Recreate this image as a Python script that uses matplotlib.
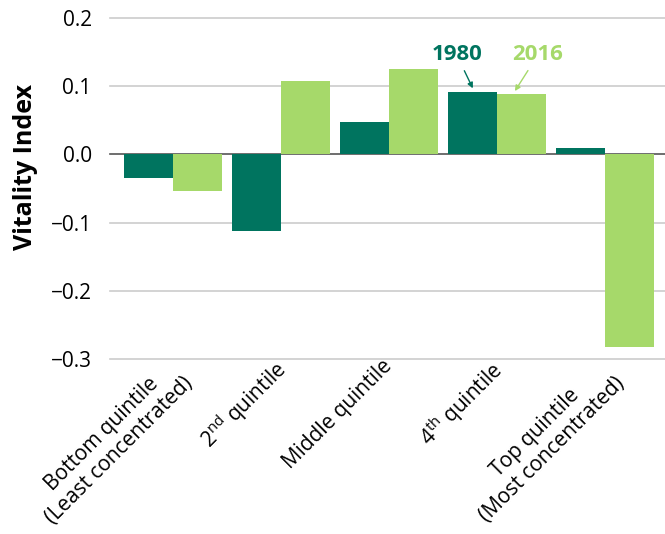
import numpy as np
import matplotlib.pyplot as plt

# Vitality index by concentration quintile
categories = ['Bottom quintile\n(Least concentrated)', '2$^{\\mathregular{nd}}$ quintile',
              'Middle quintile', '4$^{\\mathregular{th}}$ quintile',
              'Top quintile\n(Most concentrated)']
vals_1980 = [-0.035, -0.113, 0.047, 0.092, 0.010]
vals_2016 = [-0.053, 0.108, 0.125, 0.088, -0.282]
yticks = [0.2, 0.1, 0.0, -0.1, -0.2, -0.3]

dark = '#00745f'
light = '#a6d96a'

plt.rcParams['font.family'] = ['Open Sans', 'DejaVu Sans']

fig = plt.figure(figsize=(6.65, 5.34), dpi=100)
ax = fig.add_axes([0.165, 0.328, 0.835, 0.638])

x = np.arange(len(categories))
w = 0.455
ax.bar(x - w / 2, vals_1980, w, color=dark, zorder=3)
ax.bar(x + w / 2, vals_2016, w, color=light, zorder=3)

ax.set_xlim(-0.59, 4.556)
ax.set_ylim(-0.3, 0.2)
ax.set_yticks(yticks)
ax.set_yticklabels([f'{t:.1f}'.replace('-', '\u2212') for t in yticks], fontsize=15)
for t in yticks:
    ax.axhline(t, color='#555555' if t == 0 else '#cccccc', lw=1.2, zorder=1, clip_on=False)

ax.set_xticks(x - 0.075)
ax.set_xticklabels(categories, rotation=45, ha='right', rotation_mode='anchor',
                   fontsize=15, multialignment='center')
ax.tick_params(axis='y', length=0, pad=13)
ax.tick_params(axis='x', length=0, pad=-2)
for s in ax.spines.values():
    s.set_visible(False)

ax.set_ylabel('Vitality Index', fontsize=18, fontweight='bold')
ax.yaxis.set_label_coords(-0.13, 0.563)

ax.annotate('1980', xy=(2.775, 0.097), xytext=(2.626, 0.146),
            color=dark, fontsize=16, fontweight='bold', ha='center', va='center',
            arrowprops=dict(arrowstyle='-|>', color=dark, lw=1, mutation_scale=8,
                            shrinkA=2, shrinkB=0))
ax.annotate('2016', xy=(3.165, 0.093), xytext=(3.378, 0.146),
            color=light, fontsize=16, fontweight='bold', ha='center', va='center',
            arrowprops=dict(arrowstyle='-|>', color=light, lw=1, mutation_scale=8,
                            shrinkA=2, shrinkB=0))

fig.savefig('out.png', dpi=100)
